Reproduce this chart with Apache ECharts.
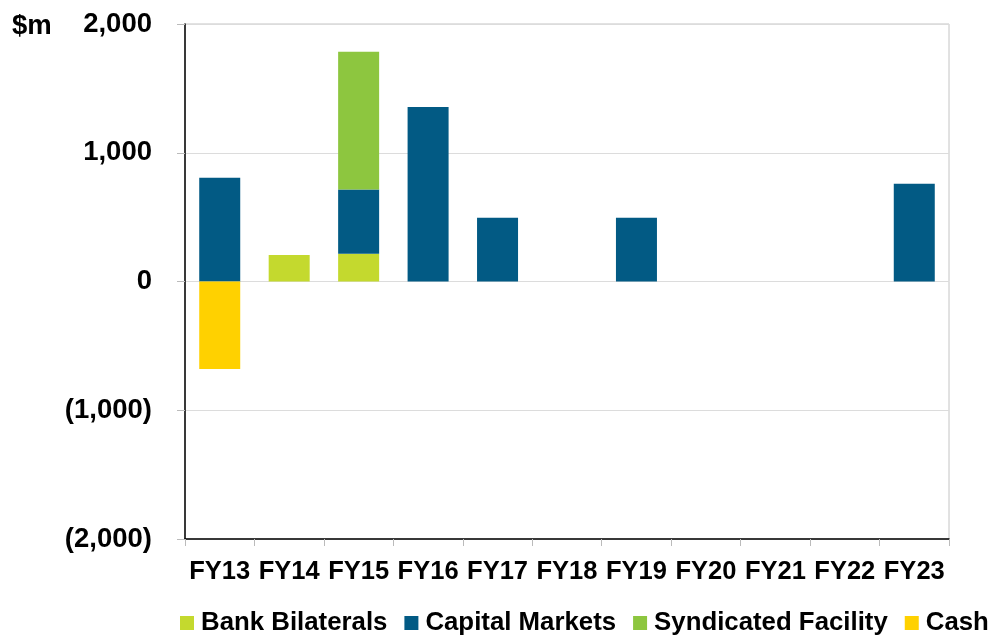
<!DOCTYPE html>
<html>
<head>
<meta charset="utf-8">
<script src="https://cdn.jsdelivr.net/npm/echarts@6/dist/echarts.min.js"></script>
<style>
html,body{margin:0;padding:0;background:#fff;}
#chart{width:992px;height:643px;}
</style>
</head>
<body>
<div id="chart"></div>
<script>
const categories = ['FY13','FY14','FY15','FY16','FY17','FY18','FY19','FY20','FY21','FY22','FY23'];
const bankBilaterals = [null, 205, 215, null, null, null, null, null, null, null, null];
const capitalMarkets = [805, null, 500, 1355, 495, null, 495, null, null, null, 760];
const syndicatedFacility = [null, null, 1070, null, null, null, null, null, null, null, null];
const cash = [-680, null, null, null, null, null, null, null, null, null, null];
const yTicks = [-2000, -1000, 0, 1000, 2000];

const FONT = "'Liberation Sans', Arial, sans-serif";
const chart = echarts.init(document.getElementById('chart'));

function fmt(v){
  const s = Math.abs(v).toLocaleString('en-US');
  return v < 0 ? '(' + s + ')' : s;
}

const seriesDefs = [
  {name:'Bank Bilaterals', data: bankBilaterals, color:'#C4D92E'},
  {name:'Capital Markets', data: capitalMarkets, color:'#025A84'},
  {name:'Syndicated Facility', data: syndicatedFacility, color:'#8DC63F'},
  {name:'Cash', data: cash, color:'#FFD100'}
];

chart.setOption({
  animation: false,
  backgroundColor: '#fff',
  title: {
    text: '$m', left: 12, top: 12, padding: 0,
    textStyle: {fontFamily: FONT, fontWeight: 'bold', fontSize: 27.5, color: '#000'}
  },
  legend: {
    left: 180, top: 610, width: 900, padding: 0,
    itemWidth: 14, itemHeight: 14, itemGap: 17,
    icon: 'rect',
    textStyle: {fontFamily: FONT, fontWeight: 'bold', fontSize: 25.8, color: '#000', padding: [0,0,0,2]},
    data: seriesDefs.map(s => s.name)
  },
  grid: {
    left: 185, right: 43, top: 24, bottom: 104,
    show: true, borderColor: '#c4c4c4', borderWidth: 1
  },
  xAxis: {
    type: 'category',
    data: categories,
    boundaryGap: true,
    axisLine: {onZero: false, lineStyle: {color: '#000', width: 1.5}},
    axisTick: {show: true, alignWithLabel: false, length: 7, lineStyle: {color: '#bbb'}},
    axisLabel: {fontFamily: FONT, fontWeight: 'bold', fontSize: 25.5, color: '#000', margin: 20, interval: 0}
  },
  yAxis: {
    type: 'value',
    min: yTicks[0], max: yTicks[yTicks.length-1], interval: 1000,
    axisLine: {show: true, lineStyle: {color: '#000', width: 1.5}},
    axisTick: {show: true, length: 8, lineStyle: {color: '#bbb'}},
    splitLine: {show: true, lineStyle: {color: '#dcdcdc', width: 1}},
    axisLabel: {fontFamily: FONT, fontWeight: 'bold', fontSize: 27.5, color: '#000', margin: 33, formatter: fmt}
  },
  series: seriesDefs.map(s => ({
    name: s.name,
    type: 'bar',
    stack: 'total',
    barWidth: 41,
    data: s.data,
    itemStyle: {color: s.color}
  }))
});
</script>
</body>
</html>
